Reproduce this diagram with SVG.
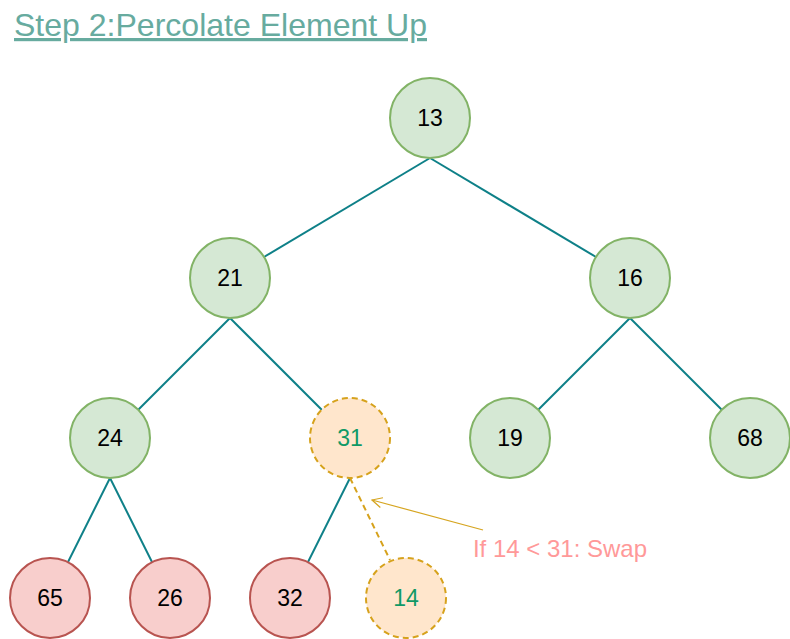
<svg xmlns="http://www.w3.org/2000/svg" width="790" height="639" viewBox="0 0 790 639">
<defs>
<style>
.g circle{fill:#d5e8d4;stroke:#82b366;stroke-width:2}
.r circle{fill:#f8cecc;stroke:#b85450;stroke-width:2}
.o circle{fill:#ffe6cc;stroke:#d6a21c;stroke-width:2;stroke-dasharray:6 4}
text{font-family:"Liberation Sans",Arial,sans-serif;font-size:23px;text-anchor:middle;fill:#000}
.o text{fill:#109966}
.e{stroke:#0e8088;stroke-width:2;fill:none}
</style>
<marker id="ah" viewBox="0 0 12 12" refX="11" refY="6" markerWidth="12" markerHeight="12" markerUnits="userSpaceOnUse" orient="auto">
<path d="M1,1 L11,6 L1,11" fill="none" stroke="#d6a520" stroke-width="1.2"/>
</marker>
</defs>
<rect width="790" height="639" fill="#ffffff"/>
<text x="14" y="36" style="font-size:32px;text-anchor:start;fill:#67ab9f;text-decoration:underline" textLength="413" lengthAdjust="spacingAndGlyphs">Step 2:Percolate Element Up</text>
<g id="edges">
<line class="e" x1="430" y1="158" x2="264" y2="257"/>
<line class="e" x1="430" y1="158" x2="596" y2="257"/>
<line class="e" x1="230" y1="318" x2="138" y2="410"/>
<line class="e" x1="230" y1="318" x2="322" y2="410"/>
<line class="e" x1="630" y1="318" x2="538" y2="410"/>
<line class="e" x1="630" y1="318" x2="722" y2="410"/>
<line class="e" x1="110" y1="478" x2="68" y2="562"/>
<line class="e" x1="110" y1="478" x2="152" y2="562"/>
<line class="e" x1="350" y1="478" x2="308" y2="562"/>
<line x1="350" y1="478" x2="390" y2="560" stroke="#d6a21c" stroke-width="2" stroke-dasharray="6 4"/>
<line x1="483" y1="530" x2="372" y2="500" stroke="#d6a520" stroke-width="1.2" marker-end="url(#ah)"/>
</g>
<g id="n13" class="g"><circle cx="430" cy="118" r="40"/><text x="430" y="126">13</text></g>
<g id="n21" class="g"><circle cx="230" cy="278" r="40"/><text x="230" y="286">21</text></g>
<g id="n16" class="g"><circle cx="630" cy="278" r="40"/><text x="630" y="286">16</text></g>
<g id="n24" class="g"><circle cx="110" cy="438" r="40"/><text x="110" y="446">24</text></g>
<g id="n31" class="o"><circle cx="350" cy="438" r="40"/><text x="350" y="446">31</text></g>
<g id="n19" class="g"><circle cx="510" cy="438" r="40"/><text x="510" y="446">19</text></g>
<g id="n68" class="g"><circle cx="750" cy="438" r="40"/><text x="750" y="446">68</text></g>
<g id="n65" class="r"><circle cx="50" cy="598" r="40"/><text x="50" y="606">65</text></g>
<g id="n26" class="r"><circle cx="170" cy="598" r="40"/><text x="170" y="606">26</text></g>
<g id="n32" class="r"><circle cx="290" cy="598" r="40"/><text x="290" y="606">32</text></g>
<g id="n14" class="o"><circle cx="406" cy="598" r="40"/><text x="406" y="606">14</text></g>
<g id="label"><text x="560" y="557" style="fill:#ff9999;font-size:24px">If 14 &lt; 31: Swap</text></g>
</svg>
